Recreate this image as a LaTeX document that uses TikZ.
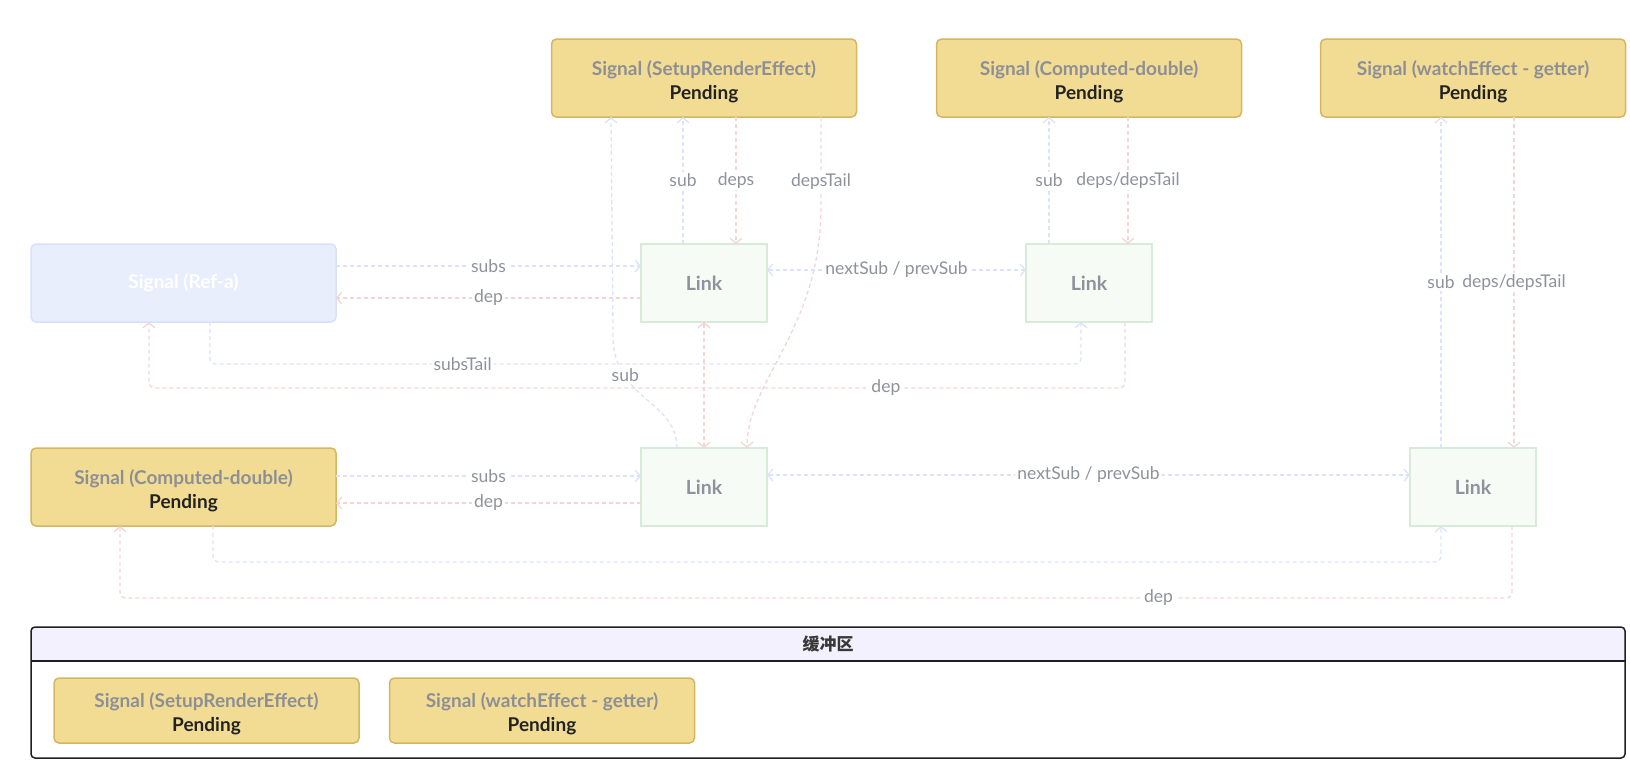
\documentclass[tikz,border=0pt]{standalone}
\usepackage{fontspec}
\setmainfont{Lato}
\newfontfamily\cjk{Noto Sans CJK SC}
\usetikzlibrary{arrows.meta}
\definecolor{bline}{RGB}{218,227,251}
\definecolor{rline}{RGB}{243,213,213}
\definecolor{lblgray}{RGB}{142,146,155}
\definecolor{linkfill}{RGB}{246,251,246}
\definecolor{linkdraw}{RGB}{216,235,216}
\definecolor{pendfill}{RGB}{242,220,148}
\definecolor{penddraw}{RGB}{212,182,96}
\definecolor{sigtext}{RGB}{140,143,150}
\definecolor{pendtext}{RGB}{34,34,34}
\definecolor{reffill}{RGB}{232,238,252}
\definecolor{refdraw}{RGB}{215,225,250}
\definecolor{bandfill}{RGB}{243,241,253}
\definecolor{framecol}{RGB}{31,31,31}
\newcommand{\sigpend}[1]{\rule{0pt}{22pt}{\color{sigtext}#1}\\{\color{pendtext}Pending}}
\tikzset{
  vtip/.tip={Straight Barb[length=5pt,width=12pt]},
  sigbox/.style={draw=penddraw, fill=pendfill, line width=1.5pt, rounded corners=5pt,
    minimum width=305pt, minimum height=78pt, align=center, inner sep=0pt, outer sep=0pt,
    font=\fontsize{19}{24}\selectfont\bfseries},
  bufitem/.style={sigbox, minimum height=65pt},
  refbox/.style={draw=refdraw, fill=reffill, line width=1.5pt, rounded corners=5pt,
    minimum width=305pt, minimum height=78pt, inner sep=0pt, outer sep=0pt, text=white,
    font=\fontsize{19}{23}\selectfont\bfseries},
  linkbox/.style={draw=linkdraw, fill=linkfill, line width=1.5pt,
    minimum width=126pt, minimum height=78pt, inner sep=0pt, outer sep=0pt, text=lblgray,
    font=\fontsize{19.5}{23}\selectfont\bfseries},
  conn/.style={line width=1.3pt, dash pattern=on 4pt off 3pt, rounded corners=6pt},
  bl/.style={conn, draw=bline},
  rl/.style={conn, draw=rline},
  lbl/.style={fill=white, text=lblgray, font=\fontsize{17.5}{20}\selectfont, inner sep=2pt},
}
\begin{document}
\begin{tikzpicture}[x=1pt,y=-1pt]
\useasboundingbox (0,0) rectangle (1630,782);

% top signals
\node[sigbox] (t1) at (704,78) {\sigpend{Signal (SetupRenderEffect)}};
\node[sigbox] (t2) at (1089,78) {\sigpend{Signal (Computed-double)}};
\node[sigbox] (t3) at (1473,78) {\sigpend{Signal (watchEffect - getter)}};

% row 1
\node[refbox] (refa) at (183.5,283) {Signal (Ref-a)};
\node[linkbox] (link1) at (704,283) {Link};
\node[linkbox] (link2) at (1089,283) {Link};

% row 2
\node[sigbox] (comp) at (183.5,487) {\sigpend{Signal (Computed-double)}};
\node[linkbox] (link3) at (704,487) {Link};
\node[linkbox] (link4) at (1473,487) {Link};

% ---- connectors row 1
\draw[bl,-vtip] ([yshift=17pt]refa.east) -- node[lbl]{subs} ([yshift=17pt]link1.west);
\draw[rl,-vtip] ([yshift=-15pt]link1.west) -- node[lbl]{dep} ([yshift=-15pt]refa.east);
\draw[bl,vtip-vtip] ([yshift=13pt]link1.east) -- node[lbl]{nextSub / prevSub} ([yshift=13pt]link2.west);

\draw[bl,-vtip] ([xshift=-21pt]link1.north) -- node[lbl]{sub} ([xshift=-21pt]t1.south);
\draw[rl,-vtip] ([xshift=32pt]t1.south) -- node[lbl]{deps} ([xshift=32pt]link1.north);

\draw[bl,-vtip] ([xshift=-40pt]link2.north) -- node[lbl]{sub} ([xshift=-40pt]t2.south);
\draw[rl,-vtip] ([xshift=39pt]t2.south) -- node[lbl]{deps/depsTail} ([xshift=39pt]link2.north);

\draw[bl,-vtip] ([xshift=26.5pt]refa.south) -- ++(0,42)
  -- node[lbl,pos=0.29]{subsTail} ++(871,0) -- ([xshift=-8pt]link2.south);
\draw[rl,-vtip] ([xshift=36pt]link2.south) -- ++(0,66)
  -- node[lbl,pos=0.245]{dep} ++(-976,0) -- ([xshift=-34.5pt]refa.south);

% crossing connectors between rows
\draw[rl,vtip-vtip] (link1.south) -- (link3.north);
\draw[rl,-vtip] ([xshift=117pt]t1.south) -- node[lbl,pos=0.78]{depsTail} ++(0,83)
  .. controls +(0,130) and +(0,-68) .. ([xshift=43pt]link3.north);
\draw[bl,-vtip] ([xshift=-27pt]link3.north) .. controls +(0,-48) and +(0,70) ..
  node[lbl,pos=0.72]{sub} ++(-64,-118) -- ([xshift=-93pt]t1.south);

% ---- connectors row 2
\draw[bl,-vtip] ([yshift=11pt]comp.east) -- node[lbl]{subs} ([yshift=11pt]link3.west);
\draw[rl,-vtip] ([yshift=-16pt]link3.west) -- node[lbl]{dep} ([yshift=-16pt]comp.east);
\draw[bl,vtip-vtip] ([yshift=12pt]link3.east) -- node[lbl]{nextSub / prevSub} ([yshift=12pt]link4.west);

\draw[bl,-vtip] ([xshift=-32pt]link4.north) -- node[lbl]{sub} ([xshift=-32pt]t3.south);
\draw[rl,-vtip] ([xshift=41pt]t3.south) -- node[lbl]{deps/depsTail} ([xshift=41pt]link4.north);

\draw[bl,-vtip] ([xshift=29.5pt]comp.south) -- ++(0,36) -- ++(1228,0) -- ([xshift=-32pt]link4.south);
\draw[rl,-vtip] ([xshift=39pt]link4.south) -- ++(0,72)
  -- node[lbl,pos=0.254]{dep} ++(-1392,0) -- ([xshift=-63.5pt]comp.south);

% ---- buffer
\node[minimum width=1594pt, minimum height=131pt, inner sep=0pt, outer sep=0pt] (buf) at (828,692.5) {};
\begin{scope}
  \clip[rounded corners=4pt] (buf.north west) rectangle (buf.south east);
  \fill[bandfill] (buf.north west) rectangle ([yshift=-34pt]buf.north east);
\end{scope}
\draw[framecol, line width=1.5pt] ([yshift=-34pt]buf.north west) -- ([yshift=-34pt]buf.north east);
\draw[framecol, line width=1.5pt, rounded corners=4pt] (buf.north west) rectangle (buf.south east);
\node[font=\fontsize{17}{20}\selectfont\cjk\bfseries, text=pendtext!90!white] (buftitle) at ([yshift=-17pt]buf.north) {缓冲区};

\node[bufitem] (b1) at (206.5,710.5) {\sigpend{Signal (SetupRenderEffect)}};
\node[bufitem] (b2) at (542,710.5) {\sigpend{Signal (watchEffect - getter)}};
\end{tikzpicture}
\end{document}
